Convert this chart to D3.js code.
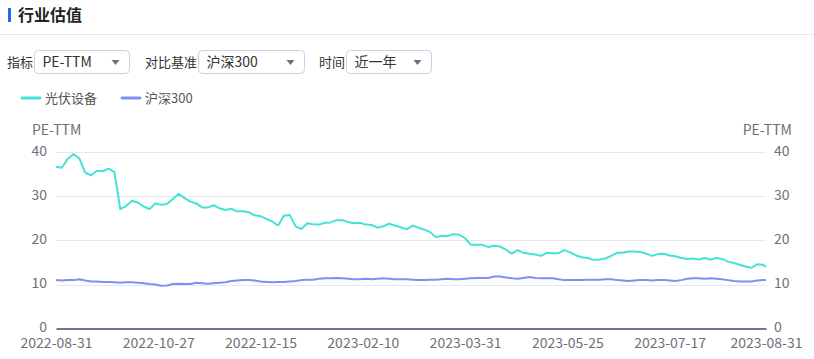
<!DOCTYPE html>
<html>
<head>
<meta charset="utf-8">
<script src="https://cdn.jsdelivr.net/npm/d3@7.8.5/dist/d3.min.js"></script>
<style>
  html, body { margin: 0; padding: 0; background: #fff; }
  svg { display: block; font-family: "Noto Sans CJK SC", "Noto Sans", sans-serif; }
</style>
</head>
<body>
<svg id="chart" width="814" height="359"></svg>
<script>
// trading-day axis: 244 sessions, one sample every 2 sessions plus the last one
const dayCount = 244;
const sampleDays = d3.range(0, 243, 2).concat([243]);

const tickDays = [0, 35, 70, 105, 140, 175, 210, 243];
const tickLabels = ['2022-08-31', '2022-10-27', '2022-12-15', '2023-02-10',
                    '2023-03-31', '2023-05-25', '2023-07-17', '2023-08-31'];
const yTicks = [0, 10, 20, 30, 40];

const seriesNames = ['光伏设备', '沪深300'];
const seriesColors = ['#45e2d6', '#7f8ff5'];

// 光伏设备 PE-TTM
const pvValues = [
  36.7, 36.5, 38.5, 39.6, 38.6, 35.4, 34.8, 35.8, 35.7, 36.3,
  35.5, 27.1, 27.8, 29.0, 28.6, 27.7, 27.1, 28.4, 28.1, 28.3,
  29.4, 30.6, 29.6, 28.8, 28.4, 27.5, 27.5, 28.0, 27.3, 26.9,
  27.2, 26.6, 26.6, 26.4, 25.7, 25.5, 24.9, 24.3, 23.4, 25.6,
  25.8, 23.2, 22.6, 23.9, 23.7, 23.6, 24.0, 24.1, 24.6, 24.6,
  24.2, 23.9, 24.0, 23.6, 23.5, 22.9, 23.2, 23.8, 23.4, 23.0,
  22.5, 23.4, 22.9, 22.5, 21.9, 20.8, 21.0, 21.0, 21.4, 21.3,
  20.5, 19.0, 19.0, 19.0, 18.5, 18.8, 18.6, 17.9, 17.0, 17.8,
  17.2, 17.0, 16.8, 16.5, 17.2, 17.1, 17.1, 17.8, 17.3, 16.6,
  16.2, 16.0, 15.6, 15.7, 15.9, 16.5, 17.2, 17.2, 17.5, 17.5,
  17.4, 17.0, 16.5, 16.9, 17.0, 16.6, 16.4, 16.0, 15.8, 15.9,
  15.7, 16.0, 15.7, 16.0, 15.8, 15.2, 14.9, 14.5, 14.1, 13.8,
  14.6, 14.5, 14.0
];

// 沪深300 PE-TTM
const hsValues = [
  11.0, 10.9, 11.0, 11.0, 11.2, 10.9, 10.7, 10.7, 10.6, 10.6,
  10.5, 10.4, 10.5, 10.5, 10.4, 10.3, 10.1, 10.0, 9.7, 9.8,
  10.1, 10.2, 10.1, 10.1, 10.4, 10.3, 10.2, 10.3, 10.4, 10.5,
  10.8, 10.9, 11.0, 11.0, 10.9, 10.7, 10.6, 10.5, 10.6, 10.6,
  10.7, 10.8, 11.0, 11.1, 11.1, 11.3, 11.4, 11.4, 11.5, 11.4,
  11.3, 11.2, 11.2, 11.3, 11.2, 11.3, 11.4, 11.3, 11.2, 11.2,
  11.2, 11.1, 11.0, 11.0, 11.1, 11.1, 11.2, 11.3, 11.2, 11.2,
  11.3, 11.4, 11.5, 11.5, 11.5, 11.8, 11.8, 11.6, 11.4, 11.3,
  11.5, 11.7, 11.5, 11.4, 11.4, 11.4, 11.2, 11.0, 11.0, 11.0,
  11.0, 11.1, 11.1, 11.1, 11.2, 11.2, 11.0, 10.9, 10.8, 10.9,
  11.0, 11.0, 10.9, 11.0, 11.0, 10.9, 10.8, 11.0, 11.3, 11.4,
  11.4, 11.3, 11.4, 11.3, 11.2, 11.0, 10.8, 10.7, 10.7, 10.7,
  10.9, 11.0, 11.0
];

const svg = d3.select('#chart');

// header
svg.append('rect').attr('x', 8).attr('y', 8).attr('width', 3).attr('height', 14).attr('fill', '#1f6cf0');
svg.append('text').attr('x', 18).attr('y', 21)
  .attr('font-size', 16).attr('font-weight', 'bold').attr('fill', '#222')
  .text('行业估值');
svg.append('line').attr('x1', 0).attr('x2', 814).attr('y1', 34.5).attr('y2', 34.5)
  .attr('stroke', '#e8e8f2');

// selector row
const controls = [
  { label: '指标', lx: 7, bx: 34.5, bw: 95, value: 'PE-TTM' },
  { label: '对比基准', lx: 145, bx: 198.5, bw: 106, value: '沪深300' },
  { label: '时间', lx: 319, bx: 346.5, bw: 85, value: '近一年' }
];
controls.forEach(c => {
  svg.append('text').attr('x', c.lx).attr('y', 67)
    .attr('font-size', 13).attr('fill', '#333').text(c.label);
  svg.append('rect').attr('x', c.bx).attr('y', 50.5).attr('width', c.bw).attr('height', 23)
    .attr('rx', 4).attr('fill', '#fff').attr('stroke', '#cfcfe0');
  svg.append('text').attr('x', c.bx + 8).attr('y', 67)
    .attr('font-size', 14).attr('fill', '#333').text(c.value);
  const ax = c.bx + c.bw - 14;
  svg.append('path').attr('d', `M${ax - 4},60 L${ax + 4},60 L${ax},65 Z`).attr('fill', '#6f6f80');
});

// legend
seriesNames.forEach((name, i) => {
  const lx = 22 + i * 100;
  svg.append('line').attr('x1', lx).attr('x2', lx + 18).attr('y1', 98).attr('y2', 98)
    .attr('stroke', seriesColors[i]).attr('stroke-width', 3).attr('stroke-linecap', 'round');
  svg.append('text').attr('x', lx + 23).attr('y', 103)
    .attr('font-size', 13).attr('fill', '#555').text(name);
});

// plot
const plotL = 56, plotR = 766, plotT = 152.3, plotB = 328.6;
const x = d3.scaleLinear().domain([0, dayCount - 1]).range([plotL, plotR]);
const y = d3.scaleLinear().domain([0, 40]).range([plotB, plotT]);

const g = svg.append('g');

g.selectAll('.grid').data(yTicks.filter(t => t > 0)).enter()
  .append('line').attr('class', 'grid')
  .attr('x1', plotL).attr('x2', plotR)
  .attr('y1', d => Math.round(y(d)) + 0.5).attr('y2', d => Math.round(y(d)) + 0.5)
  .attr('stroke', '#e7e7f3');

// axis names
svg.append('text').attr('x', 32).attr('y', 135).attr('font-size', 14).attr('fill', '#6e7079').text('PE-TTM');
svg.append('text').attr('x', 792).attr('y', 135).attr('text-anchor', 'end')
  .attr('font-size', 14).attr('fill', '#6e7079').text('PE-TTM');

// y labels both sides
const yl = d3.axisLeft(y).tickValues(yTicks).tickSize(0).tickPadding(9);
const yr = d3.axisRight(y).tickValues(yTicks).tickSize(0).tickPadding(8);
[[yl, plotL], [yr, plotR]].forEach(([ax, pos]) => {
  const a = g.append('g').attr('transform', `translate(${pos},0)`).call(ax);
  a.select('.domain').remove();
  a.selectAll('text').attr('font-size', 14).attr('fill', '#6e7079').attr('dy', '0.2em')
    .attr('font-family', '"Noto Sans CJK SC", "Noto Sans", sans-serif');
});

// lines
const line = d3.line().x(d => x(d[0])).y(d => y(d[1]));
[pvValues, hsValues].forEach((vals, i) => {
  g.append('path')
    .datum(sampleDays.map((day, k) => [day, vals[k]]))
    .attr('d', line)
    .attr('fill', 'none')
    .attr('stroke', seriesColors[i])
    .attr('stroke-width', 2)
    .attr('stroke-linejoin', 'round');
});

// x axis
const xa = g.append('g').attr('transform', `translate(0,${plotB})`)
  .call(d3.axisBottom(x).tickValues(tickDays).tickFormat((d, i) => tickLabels[i]).tickSize(0).tickPadding(9));
xa.select('.domain').attr('stroke', '#73729a').attr('stroke-width', 2);
xa.selectAll('text').attr('font-size', 14).attr('fill', '#6e7079')
  .attr('font-family', '"Noto Sans CJK SC", "Noto Sans", sans-serif');
</script>
</body>
</html>
